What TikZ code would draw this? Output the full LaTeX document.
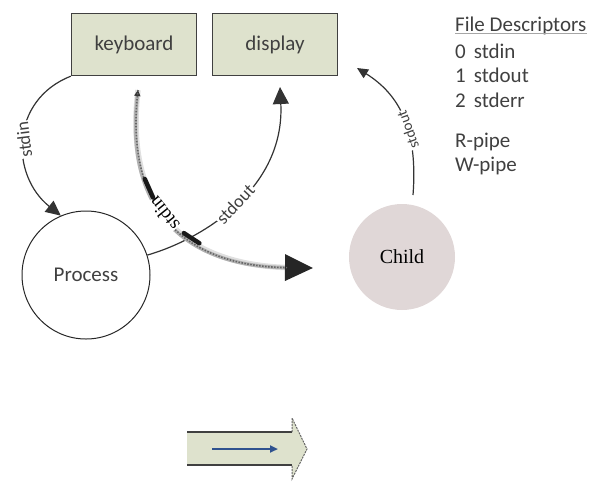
\documentclass[tikz,border=0pt]{standalone}
\usepackage{fontspec}
\newfontfamily\carl{Carlito}
\newfontfamily\tms{Liberation Serif}
\usetikzlibrary{arrows.meta,calc}
\definecolor{boxfill}{RGB}{222,226,205}
\definecolor{childfill}{RGB}{224,215,215}
\definecolor{ink}{RGB}{64,64,64}
\definecolor{flowblue}{RGB}{47,82,143}
\begin{document}
\begin{tikzpicture}[x=1pt,y=-1pt,
  device/.style={draw=black!75, line width=1.4pt, fill=boxfill,
    minimum width=125pt, minimum height=62pt, inner sep=0pt,
    font=\carl\fontsize{21}{25}\selectfont, text=ink},
  flow/.style={draw=black!80, line width=1.2pt},
  lbl/.style={font=\carl\fontsize{18}{20}\selectfont, text=ink, fill=white, inner sep=1pt},
  legend/.style={anchor=base west, font=\carl\fontsize{21}{25}\selectfont, text=ink, inner sep=0pt},
]
\useasboundingbox (0,0) rectangle (599,496);

% devices
\node[device] (kb) at (134,44.5) {keyboard};
\node[device] (disp) at (275,44.5) {display};

% processes
\node[circle, draw=black!85, line width=1pt, minimum size=128pt, inner sep=0pt,
  font=\carl\fontsize{21}{25}\selectfont, text=ink] (proc) at (86,275) {Process};
\node[circle, fill=childfill, minimum size=106pt, inner sep=0pt,
  font=\tms\fontsize{20}{24}\selectfont] (child) at (402,257) {Child};

% free ends of the flows
\coordinate (kbout) at (138,90);
\coordinate (childin) at (313,268);
\coordinate (dispin) at (280,87);
\coordinate (chout) at (413,195);
\coordinate (dispr) at (357,68);

% keyboard -> process
\draw[flow, -{Triangle[length=15pt,width=14pt]}] (kb.south west)
  .. controls (10,100) and (10,175) .. (proc.113)
  node[pos=0.5, lbl, rotate=97] (lin) {stdin};

% process -> display
\draw[flow, -{Triangle[length=17pt,width=16pt]}] (proc.18)
  .. controls (200,240) and (285,190) .. (dispin)
  node[pos=0.5, lbl, rotate=47] (lout) {stdout};

% keyboard -> child (inherited stdin): soft grey band with a dotted core
\draw[line width=5.5pt, black!12, shorten >=20pt]
  (kbout) .. controls (125,200) and (175,266) .. (childin);
\draw[line width=3.5pt, black!30,
  {Triangle[length=6pt,width=6pt,color=black!80]}-{Triangle[length=28pt,width=26pt,color=black!85]}]
  (kbout) .. controls (125,200) and (175,266) .. (childin)
  coordinate[pos=0.31] (s1) coordinate[pos=0.39] (s2)
  coordinate[pos=0.58] (s3) coordinate[pos=0.65] (s4);
\draw[line width=1.6pt, black!60, dash pattern=on 1.5pt off 1.5pt, shorten >=26pt]
  (kbout) .. controls (125,200) and (175,266) .. (childin)
  node[pos=0.47, fill=white, text=black, inner sep=0.5pt, rotate=129,
    font=\tms\fontsize{19}{22}\selectfont] (cin) {stdin};
\draw[line width=4.5pt, black!90, line cap=round] (s1) -- (s2);
\draw[line width=4.5pt, black!90, line cap=round] (s3) -- (s4);

% child -> display
\draw[flow, -{Triangle[length=11pt,width=10pt]}] (chout)
  .. controls (418,130) and (400,95) .. (dispr)
  node[pos=0.4, lbl, rotate=110, font=\carl\fontsize{15}{18}\selectfont] (cout) {stdout};

% legend
\node[legend] (fd) at (455,31) {File Descriptors};
\draw[black!35, line width=1pt] ($(fd.base west)+(0,2.5)$) -- ($(fd.base east)+(0,2.5)$);
\node[legend] (fd0) at (455,58) {0\hspace{8pt}stdin};
\node[legend] (fd1) at (455,82.5) {1\hspace{8pt}stdout};
\node[legend] (fd2) at (455,107) {2\hspace{8pt}stderr};
\node[legend] (rp) at (455,147) {R-pipe};
\node[legend] (wp) at (455,171) {W-pipe};

% pipe arrow
\fill[boxfill] (187,432) -- (292,432) -- (292,418) -- (307,449) -- (292,479)
  -- (292,465) -- (187,465) -- cycle;
\draw[black!75, line width=1.5pt] (187,432) -- (292,432);
\draw[black!75, line width=1.5pt] (187,465) -- (292,465);
\draw[black!60, line width=1pt, dash pattern=on 2pt off 1pt]
  (292,432) -- (292,418) -- (307,449) -- (292,479) -- (292,465);
\draw[flowblue, line width=2pt, -{Triangle[length=8pt,width=7pt]}] (212,449) -- (278,449);
\end{tikzpicture}
\end{document}
